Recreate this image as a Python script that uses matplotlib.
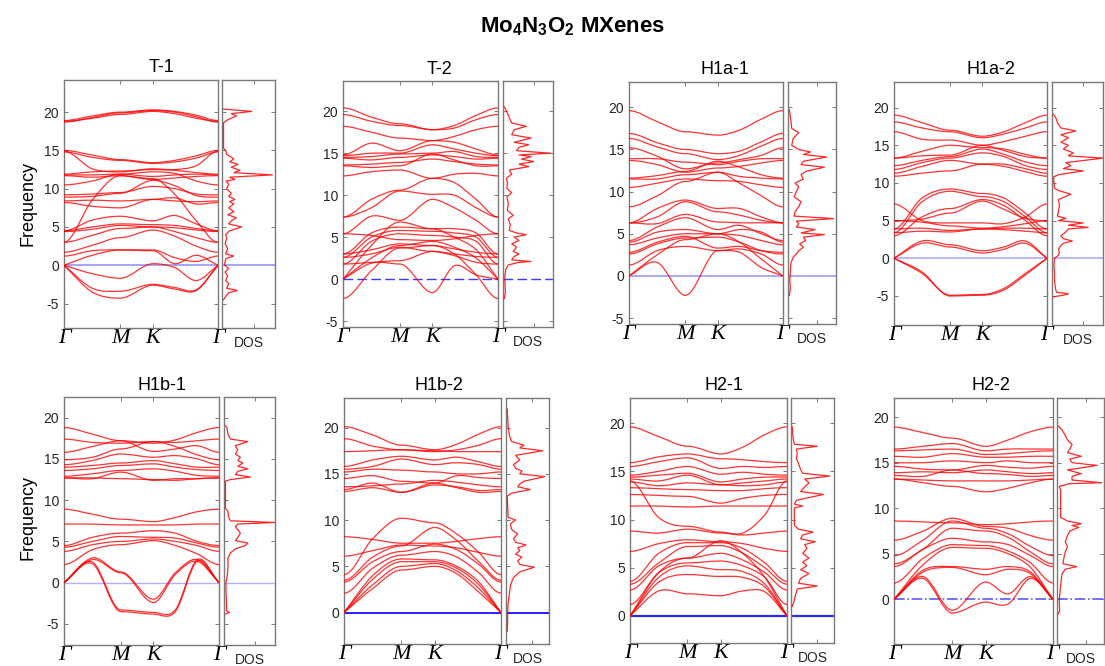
import matplotlib
matplotlib.use('Agg')
import matplotlib.pyplot as plt
import numpy as np
from matplotlib.path import Path
from matplotlib.patches import PathPatch

plt.rcParams['font.family'] = ['Liberation Sans', 'DejaVu Sans']
plt.rcParams['mathtext.fontset'] = 'custom'
plt.rcParams['mathtext.rm'] = 'Liberation Sans:bold'
plt.rcParams['mathtext.bf'] = 'Liberation Sans:bold'
plt.rcParams['mathtext.default'] = 'bf'
plt.rcParams['axes.unicode_minus'] = False

# path G-M-K-G through the hexagonal zone; band values are sampled at
# G, half G-M, M, K, K-G thirds and back at G
k_nodes = [0.0, 0.2887, 0.5774, 0.9107, 1.1329, 1.3551, 1.5774]
k_ticks = [0.0, 0.5774, 0.9107, 1.5774]
k_labels = ['Γ', 'M', 'K', 'Γ']
freq_ticks = [-5, 0, 5, 10, 15, 20]

t1_bands = [
    [18.7, 19.3, 19.9, 20.2, 20.0, 19.4, 18.7],
    [18.9, 19.5, 20.0, 20.3, 20.1, 19.6, 18.9],
    [18.8, 19.2, 19.7, 20.1, 19.8, 19.2, 18.8],
    [15.0, 14.4, 13.8, 13.4, 13.7, 14.3, 15.0],
    [14.8, 14.1, 13.7, 13.3, 13.5, 14.0, 14.8],
    [14.9, 12.6, 12.2, 12.6, 12.5, 13.0, 14.9],
    [11.9, 12.2, 12.3, 12.5, 12.4, 12.1, 11.9],
    [11.8, 11.8, 11.9, 11.6, 11.8, 11.9, 11.8],
    [11.7, 11.5, 11.7, 11.2, 11.4, 11.6, 11.7],
    [10.5, 11.0, 11.9, 12.2, 12.0, 11.0, 10.5],
    [9.2, 9.3, 9.5, 10.3, 10.0, 9.3, 9.2],
    [8.9, 9.0, 9.4, 11.1, 10.4, 9.1, 8.9],
    [8.4, 8.5, 8.4, 8.6, 8.4, 8.3, 8.4],
    [8.2, 7.7, 7.5, 8.6, 8.8, 8.0, 8.2],
    [3.0, 8.5, 11.7, 11.3, 9.3, 5.8, 3.0],
    [4.5, 5.9, 6.4, 5.8, 6.5, 5.4, 4.5],
    [4.5, 5.0, 5.4, 5.3, 5.2, 4.8, 4.5],
    [4.4, 4.7, 5.2, 5.0, 4.9, 4.6, 4.4],
    [3.0, 3.9, 4.8, 5.0, 4.4, 3.6, 3.0],
    [1.7, 2.6, 3.6, 4.6, 3.8, 2.5, 1.7],
    [1.2, 1.9, 2.0, 2.0, 1.0, 0.5, 1.2],
    [0.0, 1.3, 2.0, 1.9, 0.2, 1.3, 0.0],
    [0.0, -1.1, -1.7, 0.2, -0.3, -2.0, 0.0],
    [0.0, -3.0, -3.4, -2.5, -2.9, -3.2, 0.0],
    [0.0, -3.5, -4.3, -2.6, -3.1, -3.3, 0.0],
]

t2_bands = [
    [20.4, 19.3, 18.5, 17.8, 18.3, 19.5, 20.4],
    [19.6, 18.8, 18.3, 17.8, 18.0, 19.0, 19.6],
    [18.2, 17.5, 16.8, 16.5, 17.0, 17.8, 18.2],
    [14.8, 16.2, 15.3, 16.5, 16.3, 15.5, 14.8],
    [14.7, 15.0, 15.0, 16.0, 15.5, 15.0, 14.7],
    [14.5, 14.6, 14.9, 15.0, 15.2, 14.6, 14.5],
    [14.4, 14.2, 14.5, 14.8, 14.6, 14.3, 14.4],
    [13.6, 13.7, 13.9, 14.3, 14.0, 13.7, 13.6],
    [13.5, 13.3, 13.5, 14.9, 14.2, 13.5, 13.5],
    [12.3, 12.8, 13.0, 12.0, 12.5, 12.6, 12.3],
    [7.4, 9.5, 10.6, 12.0, 11.5, 9.5, 7.4],
    [7.4, 8.5, 10.5, 10.1, 10.0, 8.5, 7.4],
    [5.4, 7.5, 7.0, 9.5, 8.5, 7.0, 5.4],
    [3.0, 5.5, 6.2, 6.0, 6.0, 5.5, 3.0],
    [2.6, 5.0, 5.8, 5.7, 5.5, 5.0, 2.6],
    [1.8, 4.5, 5.4, 5.2, 5.0, 4.5, 1.8],
    [5.4, 5.2, 4.7, 4.6, 4.8, 5.2, 5.4],
    [3.0, 3.5, 4.2, 4.0, 3.6, 3.2, 3.0],
    [2.6, 3.0, 3.8, 3.3, 3.0, 2.7, 2.6],
    [1.8, 2.0, 2.2, 3.3, 2.8, 2.0, 1.8],
    [0.0, 1.9, 1.8, -1.6, 1.6, 0.5, 0.0],
    [0.0, 4.0, 6.8, 6.0, 5.0, 3.5, 0.0],
    [0.0, 2.5, 4.0, 4.5, 3.8, 2.5, 0.0],
    [-2.3, 1.0, 3.7, 4.0, 3.0, 0.5, -2.3],
]

h1a1_bands = [
    [19.6, 18.3, 17.1, 16.7, 17.3, 18.6, 19.6],
    [16.9, 15.8, 15.0, 14.5, 14.8, 15.9, 16.9],
    [16.3, 15.3, 14.5, 13.8, 14.3, 15.4, 16.3],
    [15.2, 14.2, 12.7, 13.4, 13.8, 14.3, 15.2],
    [13.9, 13.9, 13.5, 13.2, 13.6, 13.9, 13.9],
    [13.7, 13.2, 12.3, 12.8, 13.0, 13.4, 13.7],
    [11.6, 11.9, 12.4, 13.6, 12.9, 12.0, 11.6],
    [11.5, 11.5, 12.0, 12.3, 11.8, 11.6, 11.5],
    [10.5, 11.0, 11.5, 11.3, 11.2, 10.8, 10.5],
    [8.2, 9.5, 11.2, 12.3, 11.0, 9.5, 8.2],
    [6.3, 8.0, 9.0, 8.0, 8.0, 7.0, 6.3],
    [6.3, 7.0, 8.8, 7.6, 7.2, 6.6, 6.3],
    [6.3, 6.2, 7.3, 6.4, 6.3, 6.3, 6.3],
    [4.2, 5.8, 6.9, 5.5, 6.0, 5.0, 4.2],
    [4.0, 5.2, 5.5, 5.0, 5.5, 5.2, 4.0],
    [3.7, 4.5, 5.0, 5.0, 4.8, 4.2, 3.7],
    [2.8, 4.0, 4.7, 3.3, 3.5, 3.0, 2.8],
    [2.6, 3.8, 4.5, 4.6, 4.0, 3.0, 2.6],
    [1.3, 3.0, 3.5, 3.0, 3.2, 2.6, 1.3],
    [0.0, 2.5, 4.3, 5.0, 4.0, 2.0, 0.0],
    [0.0, 1.6, -2.3, 3.0, 2.8, 1.0, 0.0],
]

h1a2_bands = [
    [19.0, 18.0, 17.0, 16.2, 16.8, 18.0, 19.0],
    [18.1, 17.3, 16.8, 16.0, 16.5, 17.3, 18.1],
    [16.8, 15.8, 15.7, 15.0, 15.5, 16.2, 16.8],
    [13.3, 14.2, 15.0, 14.7, 14.5, 13.8, 13.3],
    [13.3, 13.6, 13.7, 15.0, 14.3, 13.5, 13.3],
    [12.3, 13.0, 13.5, 14.5, 13.8, 12.8, 12.3],
    [11.8, 12.7, 13.3, 14.0, 13.5, 12.3, 11.8],
    [11.3, 12.2, 13.0, 12.5, 12.5, 11.9, 11.3],
    [10.9, 11.3, 11.6, 12.5, 12.2, 11.5, 10.9],
    [3.9, 8.0, 9.2, 8.6, 8.0, 6.0, 3.9],
    [3.4, 7.5, 8.9, 8.2, 7.5, 5.5, 3.4],
    [3.0, 5.5, 6.6, 7.8, 7.0, 5.0, 3.0],
    [5.0, 5.2, 6.0, 7.6, 6.5, 5.3, 5.0],
    [7.2, 5.0, 4.7, 4.7, 4.6, 5.5, 7.2],
    [5.0, 4.8, 4.3, 4.0, 4.2, 4.6, 5.0],
    [3.9, 4.0, 3.7, 3.9, 4.0, 4.0, 3.9],
    [3.4, 3.6, 3.5, 3.9, 3.8, 3.6, 3.4],
    [0.0, 2.3, 1.8, 1.0, 1.5, 2.3, 0.0],
    [0.0, 2.0, 1.5, 0.7, 1.2, 2.0, 0.0],
    [0.0, -2.0, -4.9, -4.8, -4.0, -2.0, 0.0],
    [0.0, -1.8, -5.0, -4.9, -4.2, -2.2, 0.0],
]

h1b1_bands = [
    [18.8, 18.0, 17.2, 16.9, 17.3, 18.2, 18.8],
    [17.4, 17.0, 16.9, 17.1, 17.0, 17.2, 17.4],
    [15.8, 16.5, 17.2, 15.9, 16.2, 16.6, 15.8],
    [14.9, 15.2, 16.2, 17.1, 16.5, 15.5, 14.9],
    [14.3, 14.8, 15.6, 15.2, 15.4, 15.0, 14.3],
    [14.0, 14.2, 14.5, 14.8, 14.4, 14.0, 14.0],
    [13.6, 13.8, 14.2, 14.4, 14.0, 13.7, 13.6],
    [12.9, 13.2, 13.6, 13.8, 13.5, 13.0, 12.9],
    [12.7, 12.6, 13.4, 12.4, 12.6, 12.6, 12.7],
    [12.7, 12.7, 12.6, 12.5, 12.4, 12.6, 12.7],
    [8.9, 8.3, 7.7, 7.4, 7.9, 8.6, 8.9],
    [7.1, 7.1, 7.0, 7.0, 7.0, 7.1, 7.1],
    [4.5, 5.5, 6.0, 6.3, 6.0, 5.0, 4.5],
    [4.3, 5.0, 5.6, 5.5, 5.4, 4.8, 4.3],
    [3.8, 4.6, 5.0, 5.3, 5.0, 4.5, 3.8],
    [2.2, 4.0, 4.6, 5.1, 4.5, 3.5, 2.2],
    [0.0, 3.0, 1.3, -2.0, 1.2, 2.8, 0.0],
    [0.0, 2.8, 1.2, -2.4, 1.0, 2.6, 0.0],
    [0.0, 2.5, -3.3, -3.6, -3.3, 2.8, 0.0],
    [0.0, 2.3, -3.5, -3.8, -3.5, 2.6, 0.0],
]

h1b2_bands = [
    [20.1, 19.2, 18.1, 17.6, 18.2, 19.3, 20.1],
    [18.8, 18.0, 17.6, 17.4, 17.6, 18.1, 18.8],
    [17.4, 17.5, 17.6, 17.5, 17.4, 17.4, 17.4],
    [15.8, 16.5, 16.9, 16.5, 16.8, 16.3, 15.8],
    [15.5, 15.8, 16.6, 16.0, 16.2, 16.0, 15.5],
    [15.2, 15.5, 15.4, 15.2, 15.0, 15.0, 15.2],
    [14.5, 14.8, 14.2, 14.0, 14.8, 14.6, 14.5],
    [13.6, 13.7, 13.9, 14.3, 14.1, 13.8, 13.6],
    [13.3, 14.0, 13.0, 13.8, 13.6, 13.2, 13.3],
    [13.1, 13.5, 13.0, 14.0, 13.5, 13.0, 13.1],
    [8.2, 7.9, 7.5, 7.5, 7.7, 8.0, 8.2],
    [6.1, 6.7, 7.3, 7.2, 7.0, 6.5, 6.1],
    [4.1, 8.0, 10.2, 9.7, 8.5, 6.5, 4.1],
    [3.5, 6.0, 7.2, 9.2, 7.8, 5.5, 3.5],
    [3.3, 5.5, 6.6, 7.4, 6.8, 5.2, 3.3],
    [2.1, 4.8, 6.2, 6.6, 6.0, 4.3, 2.1],
    [0.0, 4.0, 5.8, 5.7, 5.0, 3.3, 0.0],
    [0.0, 3.6, 5.5, 5.5, 4.8, 3.0, 0.0],
    [0.0, 3.0, 5.0, 5.3, 4.5, 2.6, 0.0],
    [0.0, 2.6, 4.6, 5.0, 4.2, 2.2, 0.0],
]

h21_bands = [
    [19.6, 18.6, 17.6, 16.8, 17.5, 18.8, 19.6],
    [15.9, 16.5, 16.8, 16.3, 16.2, 16.0, 15.9],
    [15.5, 16.0, 16.4, 15.3, 15.5, 15.4, 15.5],
    [14.6, 15.0, 15.5, 14.7, 14.9, 14.7, 14.6],
    [14.4, 14.6, 14.8, 13.9, 14.2, 14.4, 14.4],
    [14.2, 14.0, 14.6, 13.6, 13.8, 14.0, 14.2],
    [13.9, 13.5, 13.8, 13.6, 13.5, 13.6, 13.9],
    [13.3, 13.2, 13.1, 13.0, 13.0, 13.2, 13.3],
    [12.6, 12.5, 12.4, 11.7, 12.2, 12.5, 12.6],
    [11.4, 11.4, 11.3, 11.4, 11.4, 11.4, 11.4],
    [14.0, 10.2, 9.3, 8.7, 8.6, 10.5, 14.0],
    [8.8, 8.6, 9.0, 8.6, 8.4, 8.6, 8.8],
    [6.7, 7.5, 7.9, 7.7, 7.5, 7.0, 6.7],
    [3.6, 6.5, 7.6, 7.6, 7.0, 5.5, 3.6],
    [3.3, 5.5, 7.2, 7.3, 6.5, 5.0, 3.3],
    [2.7, 5.2, 6.0, 6.5, 5.8, 4.5, 2.7],
    [1.2, 4.5, 5.5, 5.7, 5.2, 4.0, 1.2],
    [0.0, 4.0, 5.2, 4.8, 4.6, 3.3, 0.0],
    [0.0, 3.5, 4.3, 4.1, 4.0, 3.0, 0.0],
    [0.0, 2.6, 2.3, 2.1, 2.6, 2.5, 0.0],
    [0.0, 4.5, 6.0, 7.8, 6.5, 4.0, 0.0],
]

h22_bands = [
    [18.9, 18.3, 17.7, 16.8, 17.5, 18.4, 18.9],
    [16.5, 16.8, 17.1, 16.3, 16.5, 16.5, 16.5],
    [16.3, 16.4, 16.5, 15.9, 16.0, 16.2, 16.3],
    [15.7, 15.6, 16.0, 15.6, 15.6, 15.7, 15.7],
    [15.0, 15.0, 15.2, 15.0, 15.2, 15.0, 15.0],
    [14.6, 14.3, 14.2, 14.7, 14.5, 14.4, 14.6],
    [13.9, 14.0, 13.9, 14.2, 14.0, 13.8, 13.9],
    [13.6, 13.5, 14.2, 13.8, 13.7, 13.5, 13.6],
    [13.2, 13.1, 13.0, 13.0, 13.0, 13.1, 13.2],
    [13.2, 12.8, 12.4, 11.8, 12.2, 12.8, 13.2],
    [8.6, 8.5, 8.4, 8.2, 8.3, 8.5, 8.6],
    [6.5, 7.5, 8.9, 8.0, 7.8, 7.0, 6.5],
    [4.8, 6.5, 8.6, 7.8, 7.2, 5.8, 4.8],
    [3.9, 5.5, 7.8, 7.5, 6.8, 5.2, 3.9],
    [3.6, 5.5, 6.7, 6.3, 6.0, 4.8, 3.6],
    [1.8, 4.5, 6.0, 5.9, 5.3, 4.0, 1.8],
    [0.0, 3.8, 5.7, 5.6, 5.0, 3.5, 0.0],
    [0.0, 3.2, 3.6, 3.3, 3.6, 3.0, 0.0],
    [0.0, 3.0, 3.5, 2.7, 3.3, 2.8, 0.0],
    [0.0, 2.5, -1.2, 1.9, 0.6, 2.5, 0.0],
    [0.0, 2.3, -1.5, -0.3, -0.5, 2.3, 0.0],
]

# phonon DOS as (frequency, density) pairs, density normalised to the panel width
t1_dos = [(-4.5, 0.0), (-4.0, 0.05), (-3.6, 0.1), (-3.3, 0.27), (-3.0, 0.06), (-2.4, 0.1),
          (-2.0, 0.04), (-1.4, 0.08), (-0.9, 0.03), (-0.4, 0.1), (0.0, 0.02), (0.5, 0.03),
          (0.9, 0.05), (1.2, 0.2), (1.5, 0.04), (2.2, 0.08), (2.8, 0.03), (3.5, 0.06),
          (4.0, 0.04), (4.5, 0.12), (5.0, 0.35), (5.4, 0.1), (5.8, 0.15), (6.2, 0.25),
          (6.6, 0.08), (7.0, 0.2), (7.5, 0.1), (8.0, 0.2), (8.3, 0.12), (8.6, 0.22),
          (9.0, 0.1), (9.4, 0.15), (10.0, 0.06), (10.6, 0.1), (11.0, 0.05), (11.2, 0.22),
          (11.5, 0.12), (11.8, 0.95), (12.1, 0.2), (12.4, 0.32), (12.8, 0.15), (13.2, 0.28),
          (13.5, 0.12), (13.9, 0.2), (14.5, 0.06), (15.0, 0.04), (15.3, 0.0), (18.6, 0.0),
          (19.0, 0.08), (19.5, 0.25), (19.8, 0.15), (20.1, 0.55), (20.4, 0.0)]
t2_dos = [(-2.3, 0.0), (-1.5, 0.02), (-0.5, 0.01), (0.5, 0.01), (1.2, 0.03), (1.7, 0.08),
          (2.0, 0.3), (2.1, 0.55), (2.3, 0.15), (2.7, 0.2), (3.0, 0.3), (3.3, 0.18),
          (3.8, 0.25), (4.2, 0.15), (4.6, 0.3), (5.0, 0.2), (5.3, 0.45), (5.5, 0.25),
          (5.8, 0.1), (6.5, 0.12), (7.2, 0.08), (7.6, 0.18), (8.2, 0.06), (9.0, 0.08),
          (9.8, 0.05), (10.3, 0.15), (10.8, 0.05), (11.5, 0.06), (12.0, 0.04), (12.5, 0.15),
          (13.0, 0.1), (13.4, 0.5), (13.7, 0.3), (14.0, 0.6), (14.3, 0.35), (14.6, 0.55),
          (14.8, 0.3), (15.0, 0.95), (15.3, 0.25), (15.7, 0.3), (16.0, 0.5), (16.3, 0.2),
          (16.8, 0.55), (17.2, 0.15), (17.8, 0.2), (18.2, 0.45), (18.6, 0.15), (19.2, 0.1),
          (19.8, 0.06), (20.5, 0.0)]
h1a1_dos = [(-2.3, 0.0), (-1.5, 0.02), (-0.5, 0.01), (0.5, 0.02), (1.5, 0.03), (2.2, 0.08),
            (2.6, 0.15), (3.0, 0.2), (3.4, 0.3), (3.8, 0.22), (4.2, 0.35), (4.6, 0.3),
            (4.9, 0.75), (5.1, 0.25), (5.5, 0.55), (5.8, 0.15), (6.2, 0.2), (6.5, 0.15),
            (6.8, 0.95), (7.1, 0.1), (7.6, 0.12), (8.2, 0.2), (8.8, 0.25), (9.4, 0.1),
            (10.0, 0.15), (10.6, 0.2), (11.0, 0.12), (11.5, 0.3), (12.0, 0.25), (12.4, 0.35),
            (12.9, 0.75), (13.2, 0.25), (13.6, 0.3), (14.1, 0.8), (14.4, 0.3), (14.7, 0.45),
            (15.0, 0.2), (15.5, 0.05), (16.3, 0.08), (17.0, 0.2), (17.5, 0.05), (18.5, 0.03),
            (19.7, 0.0)]
h1a2_dos = [(-5.1, 0.0), (-4.9, 0.2), (-4.7, 0.3), (-4.5, 0.06), (-4.0, 0.04), (-3.0, 0.02),
            (-2.0, 0.02), (-1.0, 0.01), (0.0, 0.02), (0.4, 0.1), (0.8, 0.12), (1.2, 0.1),
            (1.7, 0.15), (2.0, 0.2), (2.3, 0.38), (2.6, 0.2), (3.0, 0.15), (3.5, 0.25),
            (3.9, 0.3), (4.1, 0.7), (4.4, 0.3), (4.7, 0.6), (5.0, 0.1), (5.3, 0.25),
            (5.6, 0.08), (6.2, 0.1), (7.0, 0.12), (7.8, 0.1), (8.5, 0.35), (9.0, 0.1),
            (9.3, 0.02), (10.8, 0.0), (11.1, 0.1), (11.6, 0.6), (11.9, 0.2), (12.3, 0.35),
            (12.7, 0.25), (13.3, 1.0), (13.6, 0.3), (14.0, 0.4), (14.5, 0.2), (15.0, 0.3),
            (15.4, 0.15), (16.0, 0.3), (16.4, 0.15), (16.9, 0.45), (17.3, 0.15), (18.0, 0.08),
            (18.6, 0.05), (19.1, 0.0)]
h1b1_dos = [(-3.8, 0.0), (-3.6, 0.08), (-3.4, 0.02), (-2.5, 0.02), (-1.0, 0.01), (0.0, 0.01),
            (1.0, 0.04), (2.0, 0.05), (3.0, 0.05), (3.6, 0.1), (4.1, 0.2), (4.5, 0.4),
            (4.8, 0.45), (5.1, 0.2), (5.5, 0.25), (6.0, 0.3), (6.4, 0.25), (6.8, 0.2),
            (7.1, 0.25), (7.3, 1.0), (7.5, 0.1), (8.0, 0.06), (8.7, 0.05), (9.0, 0.0),
            (12.3, 0.0), (12.5, 0.1), (12.8, 0.5), (13.1, 0.2), (13.5, 0.25), (13.8, 0.45),
            (14.1, 0.25), (14.5, 0.35), (14.8, 0.25), (15.2, 0.3), (15.6, 0.2), (16.1, 0.25),
            (16.6, 0.2), (17.1, 0.45), (17.4, 0.1), (18.0, 0.05), (18.8, 0.03), (19.0, 0.0)]
h1b2_dos = [(-2.0, 0.0), (-1.0, 0.01), (0.0, 0.01), (1.0, 0.02), (2.0, 0.05), (3.0, 0.08),
            (3.8, 0.15), (4.4, 0.3), (4.9, 0.65), (5.2, 0.3), (5.6, 0.25), (6.0, 0.35),
            (6.3, 0.2), (6.7, 0.3), (7.0, 0.25), (7.3, 0.45), (7.6, 0.2), (8.0, 0.15),
            (8.5, 0.25), (9.0, 0.1), (9.6, 0.08), (10.0, 0.2), (10.3, 0.02), (12.6, 0.0),
            (12.9, 0.1), (13.3, 0.55), (13.6, 0.25), (13.9, 0.3), (14.2, 0.4), (14.7, 0.9),
            (15.0, 0.3), (15.3, 0.35), (15.6, 0.2), (16.0, 0.15), (16.5, 0.3), (17.0, 0.2),
            (17.5, 0.85), (17.8, 0.3), (18.1, 0.4), (18.5, 0.1), (19.2, 0.05), (20.2, 0.02),
            (22.0, 0.0)]
h21_dos = [(1.0, 0.0), (1.5, 0.04), (2.2, 0.08), (2.8, 0.12), (3.1, 0.6), (3.4, 0.15),
           (3.9, 0.2), (4.4, 0.4), (4.8, 0.2), (5.2, 0.35), (5.6, 0.25), (6.0, 0.4),
           (6.5, 0.25), (7.0, 0.35), (7.4, 0.3), (7.7, 0.55), (8.0, 0.2), (8.4, 0.25),
           (8.7, 0.5), (9.0, 0.15), (9.4, 0.05), (11.2, 0.05), (11.4, 0.25), (11.6, 0.05),
           (12.0, 0.1), (12.6, 0.75), (12.9, 0.2), (13.4, 0.3), (13.8, 0.4), (14.2, 0.3),
           (14.5, 0.9), (14.8, 0.25), (15.2, 0.2), (15.8, 0.15), (16.3, 0.1), (16.9, 0.12),
           (17.3, 0.1), (17.6, 0.6), (17.8, 0.05), (18.5, 0.02), (19.6, 0.0)]
h22_dos = [(-1.6, 0.0), (-1.2, 0.03), (-0.5, 0.02), (0.0, 0.02), (1.0, 0.04), (2.0, 0.06),
           (2.8, 0.08), (3.3, 0.15), (3.6, 0.4), (3.9, 0.1), (4.5, 0.12), (5.2, 0.15),
           (5.8, 0.2), (6.3, 0.15), (7.0, 0.2), (7.5, 0.25), (7.9, 0.45), (8.1, 0.3),
           (8.3, 0.5), (8.6, 0.2), (9.0, 0.05), (11.7, 0.05), (12.0, 0.05), (12.4, 0.02),
           (12.7, 0.25), (12.8, 0.95), (13.1, 0.3), (13.5, 0.3), (13.8, 0.5), (14.2, 0.2),
           (14.7, 0.85), (15.0, 0.3), (15.4, 0.25), (15.7, 0.5), (16.1, 0.2), (16.5, 0.25),
           (17.0, 0.3), (17.5, 0.2), (18.0, 0.15), (18.6, 0.08), (19.0, 0.0)]

W, H = 1105, 666

# name, bands, dos, band box (l, t, r, b px), dos x-range px, ylim, zero-line style
panels = [
    ('T-1', t1_bands, t1_dos, (64, 80, 218, 328), (222, 275), (-8.2, 24.2),
     dict(color='#a4a4ff', lw=1.4, ls='-')),
    ('T-2', t2_bands, t2_dos, (343, 81, 498, 327), (503, 553), (-5.7, 23.6),
     dict(color='#3b3bff', lw=1.0, ls=(0, (7, 3)))),
    ('H1a-1', h1a1_bands, h1a1_dos, (629, 82, 783, 324), (788, 836), (-5.7, 23.0),
     dict(color='#a8a8ff', lw=1.4, ls='-')),
    ('H1a-2', h1a2_bands, h1a2_dos, (894, 82, 1047, 325), (1052, 1103), (-8.85, 23.4),
     dict(color='#b8b8ff', lw=1.4, ls='-')),
    ('H1b-1', h1b1_bands, h1b1_dos, (64, 397, 219, 645), (224, 275), (-7.55, 22.5),
     dict(color='#b0b0ff', lw=1.0, ls='-')),
    ('H1b-2', h1b2_bands, h1b2_dos, (344, 398, 501, 644), (506, 549), (-3.4, 23.2),
     dict(color='#0000ff', lw=1.2, ls='-')),
    ('H2-1', h21_bands, h21_dos, (630, 398, 787, 643), (791, 834), (-2.8, 22.6),
     dict(color='#2a2aff', lw=1.6, ls='-')),
    ('H2-2', h22_bands, h22_dos, (894, 398, 1053, 644), (1057, 1104), (-4.9, 22.1),
     dict(color='#5a5aff', lw=1.2, ls='-.')),
]

SPINE = '#7a7a7a'
TXT = '#262626'


def add_px_axes(fig, l, t, r, b):
    return fig.add_axes([l / W, 1 - b / H, (r - l) / W, (b - t) / H])


def band_path(x, y):
    """Smooth cubic path through the sampled band, flat at the zone-boundary points."""
    x = np.asarray(x, float)
    y = np.asarray(y, float)
    m = np.zeros_like(y)
    for i in (1, 4, 5):
        m[i] = (y[i + 1] - y[i - 1]) / (x[i + 1] - x[i - 1])
    # acoustic branches leave Gamma with a finite slope
    if y[0] == 0:
        m[0] = (y[1] - y[0]) / (x[1] - x[0])
    if y[-1] == 0:
        m[-1] = (y[-1] - y[-2]) / (x[-1] - x[-2])
    verts = [(x[0], y[0])]
    codes = [Path.MOVETO]
    for i in range(len(x) - 1):
        dx = x[i + 1] - x[i]
        verts += [(x[i] + dx / 3, y[i] + m[i] * dx / 3),
                  (x[i + 1] - dx / 3, y[i + 1] - m[i + 1] * dx / 3),
                  (x[i + 1], y[i + 1])]
        codes += [Path.CURVE4] * 3
    return Path(verts, codes)


def style_box(ax):
    for sp in ax.spines.values():
        sp.set_color(SPINE)
        sp.set_linewidth(1.0)
    ax.tick_params(direction='in', top=True, right=True, length=3, width=0.7,
                   color=SPINE, labelsize=10, labelcolor=TXT)


fig = plt.figure(figsize=(W / 100, H / 100), dpi=100)

for name, bands, dos, box, dos_x, ylim, zero in panels:
    l, t, r, b = box
    ax = add_px_axes(fig, l, t, r, b)
    ax_d = add_px_axes(fig, dos_x[0], t, dos_x[1], b)
    yt = [v for v in freq_ticks if ylim[0] <= v <= ylim[1]]

    for band in bands:
        ax.add_patch(PathPatch(band_path(k_nodes, band), fill=False,
                               edgecolor='#ff0000', lw=0.9, alpha=0.8, zorder=3))
    ax.axhline(0, zorder=2, **zero)
    ax.set_yticks(yt)
    ax.set_xticks(k_ticks, k_labels)
    ax.set_xlim(k_nodes[0], k_nodes[-1])
    ax.set_ylim(*ylim)
    style_box(ax)
    ax.tick_params(axis='x', pad=1)
    for lab in ax.get_xticklabels():
        lab.set_fontfamily('Liberation Serif')
        lab.set_fontstyle('italic')
        lab.set_fontsize(16)
        lab.set_color('black')

    f, v = zip(*dos)
    ax_d.plot(v, f, color='#ff0000', lw=0.9, alpha=0.85, zorder=3)
    ax_d.axhline(0, zorder=2, **zero)
    ax_d.set_yticks(yt)
    ax_d.set_xticks([0.6])
    ax_d.set_xlim(-0.03, 1.0)
    ax_d.set_ylim(*ylim)
    style_box(ax_d)
    ax_d.tick_params(labelleft=False, labelbottom=False)
    ax_d.annotate('DOS', (0.5, 0), xycoords='axes fraction', xytext=(0, -14),
                  textcoords='offset points', ha='center', va='baseline',
                  fontsize=10, color=TXT)

    fig.text(((l + dos_x[1]) / 2 - 8) / W, 1 - (t - 12) / H, name,
             ha='center', va='center', fontsize=13, color='black')

fig.text(28 / W, 1 - 204 / H, 'Frequency', rotation=90, ha='center', va='center',
         fontsize=13, color='black')
fig.text(28 / W, 1 - 518 / H, 'Frequency', rotation=90, ha='center', va='center',
         fontsize=13, color='black')
fig.text(573 / W, 1 - 27 / H, r'Mo$_4$N$_3$O$_2$ MXenes', ha='center', va='center',
         fontsize=16, fontweight='bold')

fig.savefig('out.png', dpi=100)
